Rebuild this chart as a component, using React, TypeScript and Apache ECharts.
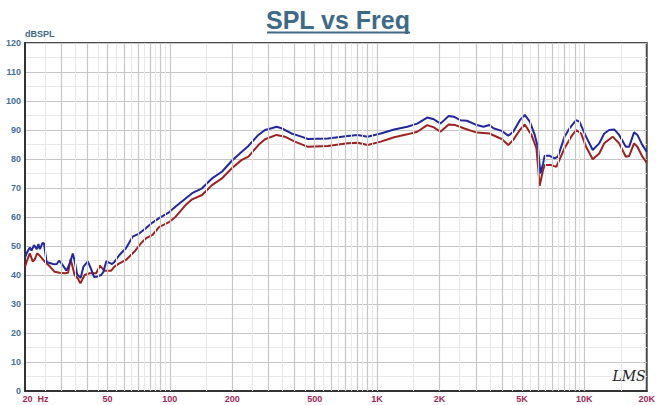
import React, { useEffect, useRef } from "react";
import * as echarts from "echarts";

const blueFreq = [20, 20.4, 21.1, 21.5, 22.1, 22.8, 23.2, 23.6, 24.3, 24.7, 25.4, 26.1, 27.3, 28.4, 29.2, 30.0, 31.7, 32.9, 34.0, 34.7, 35.7, 37.1, 38.3, 40.2, 41.7, 43.1, 44.9, 46.6, 47.8, 49.4, 51.1, 52.6, 54.0, 57.1, 61.4, 66.1, 71.1, 76.6, 82.1, 88.7, 99.0, 106.7, 119.1, 128.1, 143.0, 159.7, 178.3, 199.1, 222.3, 239.4, 267.3, 287.8, 309.5, 327.1, 345.7, 386.0, 431.1, 464.1, 578.6, 721.5, 805.8, 899.9, 1042, 1208, 1399, 1562, 1744, 1878, 2020, 2216, 2342, 2520, 2712, 3028, 3262, 3484, 3640, 3991, 4298, 4540, 4884, 5160, 5454, 5762, 5982, 6138, 6320, 6434, 6800, 7186, 7458, 8024, 8478, 9126, 9464, 10192, 10974, 11800, 12470, 13180, 13928, 14720, 15850, 16436, 17370, 18032, 19052, 20000];
const blueDb = [46, 47.6, 49.5, 48.4, 50.3, 48.9, 50.7, 48.9, 51.1, 50.9, 44.6, 44.2, 43.8, 43.7, 44.9, 44.0, 41.5, 44, 47.4, 45, 40.2, 39, 42.9, 44.7, 42, 39.3, 39.5, 40, 41.1, 44.8, 44.2, 43.8, 44.5, 46.9, 49.2, 53.2, 54.3, 56.1, 58, 59.6, 61.6, 63.6, 66.4, 68.2, 69.9, 73.3, 75.6, 79.4, 82.5, 84.5, 88.3, 90, 90.6, 91.1, 90.6, 88.8, 87.7, 86.9, 87.1, 87.9, 88.3, 87.7, 88.8, 90.2, 91.1, 92.2, 94.3, 93.7, 92.2, 94.8, 94.6, 93.4, 93.2, 91.7, 91.1, 91.7, 90.6, 89.7, 88, 89.4, 93.4, 95.2, 92.9, 88.3, 83.7, 75, 78.4, 81.1, 81.1, 80.2, 80.8, 87.7, 90.6, 93.4, 92.9, 87.7, 83.1, 85.4, 88.8, 90, 90.2, 88.3, 84.2, 84.2, 89.2, 88.3, 84.8, 82.5];

const redFreq = [20, 20.44, 21.1, 21.8, 22.3, 22.9, 23.6, 24.9, 26.4, 27.8, 29.4, 31.1, 32.3, 33.2, 34.7, 36.0, 37.0, 38.8, 41.0, 44.1, 46.0, 48.3, 52.1, 54.0, 57.1, 61.4, 67.3, 72.5, 76.6, 82.4, 88.7, 99.0, 106.7, 119.1, 128.1, 143.0, 159.7, 178.3, 199.1, 222.3, 239.4, 267.3, 287.8, 327.1, 358.9, 400.8, 464.1, 578.6, 721.5, 805.8, 899.9, 1042, 1208, 1399, 1562, 1744, 1878, 2020, 2216, 2384, 2616, 3028, 3484, 3991, 4298, 4540, 4884, 5160, 5556, 5870, 6088, 6320, 6434, 6928, 7318, 8024, 8638, 9126, 9646, 10192, 10974, 11800, 12470, 13686, 14720, 15850, 16436, 17370, 18032, 19052, 20000];
const redDb = [42.9, 44.9, 47.5, 44.6, 45.4, 47.5, 46.6, 44.6, 42.9, 41.1, 40.8, 40.6, 40.8, 45.5, 40, 38.8, 37.1, 40, 40.6, 40.6, 43.2, 41.5, 41.5, 42.9, 44, 45.2, 48, 50.9, 52.6, 53.8, 56.5, 58.2, 60.1, 64.1, 66.1, 67.6, 71, 73.3, 76.8, 79.7, 80.8, 84.8, 86.8, 88.3, 87.7, 86, 84.2, 84.5, 85.4, 85.6, 84.8, 86, 87.5, 88.5, 89.4, 91.7, 90.9, 89.4, 91.9, 91.7, 90.6, 89.1, 88.8, 86.9, 84.8, 86.6, 90, 91.9, 88.3, 83.7, 70.8, 76.2, 77.9, 77.9, 77.3, 83.7, 87.7, 90, 88.8, 84.2, 79.9, 81.9, 85.4, 87.7, 85.4, 80.8, 81, 85.4, 84.2, 80.8, 78.7];

const xTickValues = [20, 50, 100, 200, 500, 1000, 2000, 5000, 10000, 20000];
const xTickLabels = ["20  Hz", "50", "100", "200", "500", "1K", "2K", "5K", "10K", "20K"];
const majorGridFreqs = [30, 40, 50, 60, 70, 80, 90, 100, 200, 300, 400, 500, 600, 700, 800, 900, 1000, 2000, 3000, 4000, 5000, 6000, 7000, 8000, 9000, 10000];
const minorGridFreqs = [25, 35, 45, 55, 65, 75, 85, 95, 150, 250, 350, 450, 550, 650, 750, 850, 950, 1500, 2500, 3500, 4500, 5500, 6500, 7500, 8500, 9500, 15000];

export default function App() {
  const ref = useRef<HTMLDivElement>(null);
  useEffect(() => {
    if (!ref.current) return;
    const chart = echarts.init(ref.current, undefined, { renderer: "svg" });
    const gridLines = [
      ...minorGridFreqs.map((f) => ({ xAxis: f, lineStyle: { color: "#e8e8e8", width: 1, type: "solid" } })),
      ...majorGridFreqs.map((f) => ({ xAxis: f, lineStyle: { color: "#c6c6c6", width: 1.2, type: "solid" } })),
    ];
    chart.setOption({
      animation: false,
      backgroundColor: "#ffffff",
      grid: { left: 25, right: 6, top: 43, bottom: 14, show: true, borderColor: "#4a4a4a", borderWidth: 2, backgroundColor: "#ffffff", containLabel: false },
      graphic: [
        { type: "text", x: 338, y: 20, style: { text: "SPL vs Freq", font: 'bold 25px "Liberation Sans", Arial, sans-serif', fill: "#3e6a87", align: "center", verticalAlign: "middle" } },
        { type: "line", shape: { x1: 267, y1: 32.5, x2: 410, y2: 32.5 }, style: { stroke: "#3e6a87", lineWidth: 2 } },
        { type: "text", x: 629, y: 376, z: 100, style: { text: "LMS", font: 'italic 14px "DejaVu Serif", serif', fill: "#222", align: "center", verticalAlign: "middle" } },
      ],
      xAxis: {
        type: "log",
        logBase: 10,
        min: 20,
        max: 20000,
        axisLine: { show: true, onZero: false, lineStyle: { color: "#333", width: 2 } },
        axisTick: { show: false },
        splitLine: { show: false },
        axisLabel: {
          customValues: xTickValues,
          margin: 3,
          fontSize: 9,
          fontWeight: "bold",
          fontFamily: '"Liberation Sans", Arial, sans-serif',
          color: "#a02858",
          formatter: (v: number) => {
            const i = xTickValues.indexOf(Math.round(v));
            const t = i >= 0 ? xTickLabels[i] : "";
            return i === 0 ? "{first|" + t + "}" : t;
          },
          rich: { first: { padding: [0, 0, 0, 21], fontSize: 9, fontWeight: "bold", color: "#a02858", fontFamily: '"Liberation Sans", Arial, sans-serif' } },
        },
      },
      yAxis: {
        type: "value",
        min: 0,
        max: 120,
        interval: 10,
        name: "dBSPL",
        nameLocation: "end",
        nameGap: 3,
        nameTextStyle: { align: "left", fontSize: 9, fontWeight: "bold", color: "#3e6a87", fontFamily: '"Liberation Sans", Arial, sans-serif', padding: [0, 0, 0, 0] },
        axisLine: { show: true, lineStyle: { color: "#333", width: 2 } },
        axisTick: { show: false },
        minorTick: { show: false, splitNumber: 2 },
        splitLine: { show: true, lineStyle: { color: "#c6c6c6", width: 1.2 } },
        minorSplitLine: { show: true, lineStyle: { color: "#e8e8e8", width: 1 } },
        axisLabel: { margin: 4, fontSize: 9, fontWeight: "bold", color: "#46709a", fontFamily: '"Liberation Sans", Arial, sans-serif' },
      },
      series: [
        {
          type: "line",
          name: "grid",
          data: [],
          z: 1,
          silent: true,
          markLine: { silent: true, symbol: "none", label: { show: false }, animation: false, data: gridLines },
        },
        {
          type: "line",
          name: "red",
          data: redFreq.map((f, i) => [f, redDb[i]]),
          showSymbol: false,
          z: 3,
          lineStyle: { color: "#9c2222", width: 2 },
        },
        {
          type: "line",
          name: "blue",
          data: blueFreq.map((f, i) => [f, blueDb[i]]),
          showSymbol: false,
          z: 4,
          lineStyle: { color: "#23279a", width: 2 },
        },
      ],
    });
    return () => chart.dispose();
  }, []);
  return <div ref={ref} style={{ position: "fixed", left: 0, top: 0, width: 658, height: 405, background: "#fff" }} />;
}
